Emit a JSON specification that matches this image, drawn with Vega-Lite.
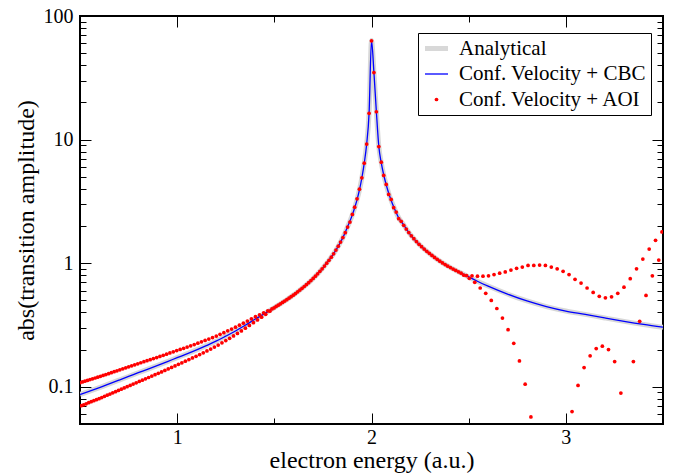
{
  "$schema": "https://vega.github.io/schema/vega-lite/v6.json",
  "width": 583,
  "height": 408,
  "autosize": {"type": "none"},
  "padding": {"left": 80, "top": 16, "right": 27, "bottom": 50},
  "background": "white",
  "config": {
    "font": "Liberation Serif, Times New Roman, DejaVu Serif, serif",
    "view": {"stroke": "black", "strokeWidth": 2},
    "axis": {
      "domain": false, "grid": false, "ticks": true,
      "tickColor": "black", "tickWidth": 1,
      "labelFont": "Liberation Serif, Times New Roman, DejaVu Serif, serif", "labelFontSize": 20, "labelColor": "black",
      "titleFont": "Liberation Serif, Times New Roman, DejaVu Serif, serif", "titleFontSize": 24, "titleFontWeight": "normal", "titleColor": "black"
    },
    "legend": {
      "labelFont": "Liberation Serif, Times New Roman, DejaVu Serif, serif"
    }
  },
  "datasets": {
    "curve": [
      {"x":0.5,"y":0.0867},{"x":0.55,"y":0.0924},{"x":0.6,"y":0.0986},{"x":0.65,"y":0.1056},{"x":0.7,"y":0.1131},
      {"x":0.75,"y":0.1212},{"x":0.8,"y":0.13},{"x":0.85,"y":0.1391},{"x":0.9,"y":0.1491},{"x":0.95,"y":0.16},
      {"x":1.0,"y":0.172},{"x":1.05,"y":0.1847},{"x":1.1,"y":0.1989},{"x":1.15,"y":0.2153},{"x":1.2,"y":0.2338},
      {"x":1.25,"y":0.2567},{"x":1.3,"y":0.2829},{"x":1.35,"y":0.3146},{"x":1.4,"y":0.3517},{"x":1.45,"y":0.3909},
      {"x":1.5,"y":0.438},{"x":1.55,"y":0.49},{"x":1.6,"y":0.555},{"x":1.65,"y":0.64},{"x":1.7,"y":0.7533},
      {"x":1.75,"y":0.916},{"x":1.8,"y":1.16},{"x":1.83,"y":1.381},{"x":1.86,"y":1.703},{"x":1.877,"y":1.976},
      {"x":1.8891,"y":2.19},{"x":1.9013,"y":2.46},{"x":1.9135,"y":2.81},{"x":1.9257,"y":3.27},{"x":1.938,"y":3.92},
      {"x":1.9503,"y":4.89},{"x":1.9627,"y":6.45},{"x":1.9751,"y":9.2},{"x":1.9875,"y":16.3},{"x":2.0,"y":63.5},
      {"x":2.0125,"y":34.9},{"x":2.0251,"y":16.8},{"x":2.0377,"y":8.79},{"x":2.0503,"y":6.48},{"x":2.063,"y":5.17},
      {"x":2.0757,"y":4.31},{"x":2.0885,"y":3.68},{"x":2.1013,"y":3.22},{"x":2.1141,"y":2.86},{"x":2.127,"y":2.57},
      {"x":2.1399,"y":2.33},{"x":2.16,"y":2.104},{"x":2.2,"y":1.705},{"x":2.25,"y":1.396},{"x":2.3,"y":1.193},
      {"x":2.35,"y":1.043},{"x":2.4,"y":0.9325},{"x":2.45,"y":0.849},{"x":2.5,"y":0.774},{"x":2.55,"y":0.708},
      {"x":2.6,"y":0.653},{"x":2.7,"y":0.563},{"x":2.8,"y":0.495},{"x":2.9,"y":0.4456},{"x":3.0,"y":0.41},
      {"x":3.1,"y":0.3855},{"x":3.2,"y":0.3608},{"x":3.3,"y":0.3385},{"x":3.4,"y":0.3193},{"x":3.5,"y":0.3033}
    ],
    "aoi": [
      {"x":0.5,"y":0.108},{"x":0.5063,"y":0.0703},{"x":0.5126,"y":0.1094},{"x":0.5189,"y":0.0715},{"x":0.5253,"y":0.111},
      {"x":0.5317,"y":0.0729},{"x":0.5382,"y":0.1127},{"x":0.5447,"y":0.0743},{"x":0.5513,"y":0.1143},{"x":0.5578,"y":0.0757},
      {"x":0.5645,"y":0.116},{"x":0.5711,"y":0.0772},{"x":0.5778,"y":0.1178},{"x":0.5846,"y":0.0787},{"x":0.5913,"y":0.1196},
      {"x":0.5981,"y":0.0802},{"x":0.605,"y":0.1215},{"x":0.6119,"y":0.0819},{"x":0.6188,"y":0.1235},{"x":0.6258,"y":0.0837},
      {"x":0.6328,"y":0.1256},{"x":0.6399,"y":0.0855},{"x":0.647,"y":0.1278},{"x":0.6541,"y":0.0874},{"x":0.6613,"y":0.1301},
      {"x":0.6685,"y":0.0893},{"x":0.6757,"y":0.1324},{"x":0.683,"y":0.0913},{"x":0.6903,"y":0.1348},{"x":0.6977,"y":0.0934},
      {"x":0.7051,"y":0.1372},{"x":0.7125,"y":0.0956},{"x":0.72,"y":0.1397},{"x":0.7275,"y":0.0978},{"x":0.7351,"y":0.1423},
      {"x":0.7427,"y":0.1002},{"x":0.7503,"y":0.145},{"x":0.758,"y":0.1026},{"x":0.7657,"y":0.1478},{"x":0.7735,"y":0.1051},
      {"x":0.7813,"y":0.1507},{"x":0.7891,"y":0.1077},{"x":0.797,"y":0.1536},{"x":0.8049,"y":0.1104},{"x":0.8128,"y":0.1565},
      {"x":0.8208,"y":0.1132},{"x":0.8288,"y":0.1595},{"x":0.8369,"y":0.116},{"x":0.845,"y":0.1626},{"x":0.8531,"y":0.1189},
      {"x":0.8613,"y":0.1658},{"x":0.8696,"y":0.122},{"x":0.8778,"y":0.1691},{"x":0.8861,"y":0.1252},{"x":0.8945,"y":0.1725},
      {"x":0.9028,"y":0.1285},{"x":0.9113,"y":0.1761},{"x":0.9197,"y":0.132},{"x":0.9282,"y":0.1798},{"x":0.9367,"y":0.1357},
      {"x":0.9453,"y":0.1836},{"x":0.9539,"y":0.1395},{"x":0.9626,"y":0.1877},{"x":0.9713,"y":0.1435},{"x":0.98,"y":0.1918},
      {"x":0.9888,"y":0.1476},{"x":0.9976,"y":0.1962},{"x":1.0064,"y":0.1519},{"x":1.0153,"y":0.2005},{"x":1.0242,"y":0.1563},
      {"x":1.0332,"y":0.205},{"x":1.0422,"y":0.161},{"x":1.0513,"y":0.2097},{"x":1.0603,"y":0.1659},{"x":1.0695,"y":0.2145},
      {"x":1.0786,"y":0.171},{"x":1.0878,"y":0.2197},{"x":1.0971,"y":0.1764},{"x":1.1063,"y":0.2251},{"x":1.1156,"y":0.1822},
      {"x":1.125,"y":0.2309},{"x":1.1344,"y":0.1885},{"x":1.1438,"y":0.237},{"x":1.1533,"y":0.195},{"x":1.1628,"y":0.2434},
      {"x":1.1724,"y":0.202},{"x":1.182,"y":0.2502},{"x":1.1916,"y":0.2094},{"x":1.2013,"y":0.2574},{"x":1.211,"y":0.2176},
      {"x":1.2207,"y":0.2656},{"x":1.2305,"y":0.2267},{"x":1.2403,"y":0.2743},{"x":1.2502,"y":0.2364},{"x":1.2601,"y":0.2835},
      {"x":1.27,"y":0.2468},{"x":1.28,"y":0.2932},{"x":1.29,"y":0.2578},{"x":1.3001,"y":0.3036},{"x":1.3102,"y":0.27},
      {"x":1.3203,"y":0.3151},{"x":1.3305,"y":0.2834},{"x":1.3407,"y":0.3273},{"x":1.351,"y":0.2978},{"x":1.3613,"y":0.3405},
      {"x":1.3716,"y":0.3133},{"x":1.382,"y":0.3545},{"x":1.3924,"y":0.3301},{"x":1.4028,"y":0.3692},{"x":1.4133,"y":0.3472},
      {"x":1.4238,"y":0.3825},{"x":1.4344,"y":0.3654},{"x":1.445,"y":0.397},{"x":1.4556,"y":0.3855},{"x":1.4663,"y":0.4114},
      {"x":1.4771,"y":0.4088},{"x":1.4878,"y":0.4268},{"x":1.4986,"y":0.4346},{"x":1.5095,"y":0.4471},{"x":1.5203,"y":0.4578},
      {"x":1.5313,"y":0.4692},{"x":1.5422,"y":0.4812},{"x":1.5532,"y":0.4937},{"x":1.5642,"y":0.5069},{"x":1.5753,"y":0.5211},
      {"x":1.5864,"y":0.5358},{"x":1.5976,"y":0.5514},{"x":1.6088,"y":0.5685},{"x":1.62,"y":0.5863},{"x":1.6313,"y":0.6056},
      {"x":1.6426,"y":0.6259},{"x":1.6539,"y":0.6478},{"x":1.6653,"y":0.6711},{"x":1.6767,"y":0.6963},{"x":1.6882,"y":0.7232},
      {"x":1.6997,"y":0.7526},{"x":1.7113,"y":0.7852},{"x":1.7228,"y":0.8203},{"x":1.7345,"y":0.8591},{"x":1.7461,"y":0.9011},
      {"x":1.7578,"y":0.9475},{"x":1.7696,"y":0.9991},{"x":1.7813,"y":1.056},{"x":1.7931,"y":1.119},{"x":1.805,"y":1.192},
      {"x":1.8169,"y":1.276},{"x":1.8288,"y":1.372},{"x":1.8408,"y":1.483},{"x":1.8528,"y":1.612},{"x":1.8649,"y":1.766},
      {"x":1.877,"y":1.96},{"x":1.8891,"y":2.15},{"x":1.9013,"y":2.48},{"x":1.9135,"y":2.84},{"x":1.9257,"y":3.32},
      {"x":1.938,"y":3.97},{"x":1.9503,"y":4.91},{"x":1.9627,"y":6.44},{"x":1.9751,"y":9.2},{"x":1.9875,"y":16.3},
      {"x":2.0,"y":63},{"x":2.0125,"y":34.9},{"x":2.0251,"y":16.8},{"x":2.0377,"y":8.79},{"x":2.0503,"y":6.56},
      {"x":2.063,"y":5.13},{"x":2.0757,"y":4.34},{"x":2.0885,"y":3.6},{"x":2.1013,"y":3.28},{"x":2.1141,"y":2.81},
      {"x":2.127,"y":2.59},{"x":2.1399,"y":2.29},{"x":2.1528,"y":2.182},{"x":2.1658,"y":2.024},{"x":2.1788,"y":1.888},
      {"x":2.1919,"y":1.77},{"x":2.205,"y":1.667},{"x":2.2181,"y":1.577},{"x":2.2313,"y":1.496},{"x":2.2446,"y":1.423},
      {"x":2.2578,"y":1.359},{"x":2.2711,"y":1.301},{"x":2.2845,"y":1.249},{"x":2.2978,"y":1.201},{"x":2.3113,"y":1.155},
      {"x":2.3247,"y":1.113},{"x":2.3382,"y":1.074},{"x":2.3517,"y":1.038},{"x":2.3653,"y":1.005},{"x":2.3789,"y":0.9747},
      {"x":2.3926,"y":0.946},{"x":2.4063,"y":0.9208},{"x":2.42,"y":0.8967},{"x":2.4338,"y":0.8739},{"x":2.4476,"y":0.8526},
      {"x":2.4614,"y":0.8307},{"x":2.4753,"y":0.8},{"x":2.4892,"y":0.795},{"x":2.5032,"y":0.755},{"x":2.5172,"y":0.79},
      {"x":2.5313,"y":0.7},{"x":2.5453,"y":0.785},{"x":2.5594,"y":0.63},{"x":2.5736,"y":0.785},{"x":2.5878,"y":0.57},
      {"x":2.6021,"y":0.79},{"x":2.6163,"y":0.5},{"x":2.6306,"y":0.81},{"x":2.645,"y":0.43},{"x":2.6594,"y":0.83},
      {"x":2.6738,"y":0.36},{"x":2.6883,"y":0.85},{"x":2.7028,"y":0.29},{"x":2.7174,"y":0.88},{"x":2.732,"y":0.225},
      {"x":2.7466,"y":0.91},{"x":2.7613,"y":0.162},{"x":2.776,"y":0.93},{"x":2.7907,"y":0.105},{"x":2.8055,"y":0.96},
      {"x":2.8203,"y":0.057},{"x":2.8352,"y":0.96},{"x":2.865,"y":0.965},{"x":2.895,"y":0.96},{"x":2.9252,"y":0.93},
      {"x":2.9555,"y":0.9},{"x":2.986,"y":0.86},{"x":3.0166,"y":0.81},{"x":3.032,"y":0.063},{"x":3.0474,"y":0.74},
      {"x":3.0628,"y":0.1025},{"x":3.0783,"y":0.69},{"x":3.0939,"y":0.143},{"x":3.1094,"y":0.63},{"x":3.125,"y":0.178},
      {"x":3.1406,"y":0.58},{"x":3.1563,"y":0.204},{"x":3.1721,"y":0.54},{"x":3.1878,"y":0.213},{"x":3.2036,"y":0.525},
      {"x":3.2195,"y":0.2},{"x":3.2353,"y":0.535},{"x":3.2513,"y":0.16},{"x":3.2672,"y":0.57},{"x":3.2832,"y":0.089},
      {"x":3.2992,"y":0.64},{"x":3.3314,"y":0.75},{"x":3.3476,"y":0.16},{"x":3.3638,"y":0.9},{"x":3.38,"y":0.339},
      {"x":3.3963,"y":1.08},{"x":3.4126,"y":0.548},{"x":3.4289,"y":1.3},{"x":3.4453,"y":0.79},{"x":3.4617,"y":1.53},
      {"x":3.4782,"y":1.06},{"x":3.4947,"y":1.79}
    ]
  },
  "layer": [
    {
      "data": {"name": "curve"},
      "mark": {"type": "line", "strokeWidth": 5, "interpolate": "monotone", "clip": true},
      "encoding": {
        "x": {"field": "x", "type": "quantitative",
          "scale": {"domain": [0.5, 3.5], "nice": false, "zero": false},
          "axis": {"orient": "bottom", "values": [1, 2, 3], "format": "~g", "tickSize": -11, "labelPadding": 14, "labelFlush": false,
            "title": "electron energy (a.u.)", "titleX": 291.5, "titleY": 43, "titleBaseline": "alphabetic", "titleAlign": "center"}},
        "y": {"field": "y", "type": "quantitative",
          "scale": {"type": "log", "domain": [0.05, 100], "nice": false},
          "axis": {"orient": "left", "values": [0.1, 1, 10, 100], "format": "~g", "tickSize": -11, "labelPadding": 18, "labelFlush": false,
            "title": "abs(transition amplitude)", "titleX": -47, "titleY": 204, "titleAngle": -90, "titleBaseline": "alphabetic", "titleAlign": "center"}},
        "color": {"datum": "Analytical", "type": "nominal",
          "scale": {"domain": ["Analytical", "Conf. Velocity + CBC", "Conf. Velocity + AOI"], "range": ["#d8d8d8", "#0000ff", "#ff0000"]},
          "legend": {
            "orient": "none", "legendX": 338, "legendY": 17, "title": null,
            "strokeColor": "black", "fillColor": "white", "padding": 5,
            "symbolType": "stroke", "symbolSize": 400, "symbolStrokeWidth": 1.3, "symbolOffset": 3,
            "labelFont": "Liberation Serif, Times New Roman, DejaVu Serif, serif", "labelFontSize": 21, "labelColor": "black", "labelOffset": 12, "labelLimit": 400,
            "rowPadding": 3.5,
            "encode": {"symbols": {"update": {
              "shape": {"signal": "datum.value === 'Conf. Velocity + AOI' ? 'circle' : 'stroke'"},
              "size": {"signal": "datum.value === 'Conf. Velocity + AOI' ? 14 : 529"},
              "strokeWidth": {"signal": "datum.value === 'Analytical' ? 5 : (datum.value === 'Conf. Velocity + CBC' ? 1.3 : 0)"},
              "stroke": {"signal": "datum.value === 'Analytical' ? '#d8d8d8' : (datum.value === 'Conf. Velocity + CBC' ? '#0000ff' : 'transparent')"},
              "fill": {"signal": "datum.value === 'Conf. Velocity + AOI' ? '#ff0000' : 'transparent'"},
              "opacity": {"value": 1}
            }}}
          }}
      }
    },
    {
      "data": {"name": "curve"},
      "mark": {"type": "line", "strokeWidth": 1.3, "interpolate": "monotone", "clip": true},
      "encoding": {
        "x": {"field": "x", "type": "quantitative",
          "scale": {"domain": [0.5, 3.5], "nice": false, "zero": false},
          "axis": {"orient": "bottom", "values": [1.5, 2.5], "tickSize": -6, "labels": false, "title": null}},
        "y": {"field": "y", "type": "quantitative",
          "scale": {"type": "log", "domain": [0.05, 100], "nice": false},
          "axis": {"orient": "left", "values": [0.06,0.07,0.08,0.09,0.2,0.3,0.4,0.5,0.6,0.7,0.8,0.9,2,3,4,5,6,7,8,9,20,30,40,50,60,70,80,90], "tickSize": -6, "labels": false, "title": null}},
        "color": {"datum": "Conf. Velocity + CBC", "type": "nominal"}
      }
    },
    {
      "data": {"name": "aoi"},
      "mark": {"type": "circle", "size": 14, "opacity": 1, "clip": true},
      "encoding": {
        "x": {"field": "x", "type": "quantitative",
          "scale": {"domain": [0.5, 3.5], "nice": false, "zero": false},
          "axis": {"orient": "top", "values": [1, 2, 3], "tickSize": -11, "labels": false, "title": null}},
        "y": {"field": "y", "type": "quantitative",
          "scale": {"type": "log", "domain": [0.05, 100], "nice": false},
          "axis": {"orient": "right", "values": [0.1, 1, 10, 100], "tickSize": -11, "labels": false, "title": null}},
        "color": {"datum": "Conf. Velocity + AOI", "type": "nominal"}
      }
    },
    {
      "data": {"name": "curve"},
      "mark": {"type": "line", "opacity": 0, "clip": true},
      "encoding": {
        "x": {"field": "x", "type": "quantitative",
          "scale": {"domain": [0.5, 3.5], "nice": false, "zero": false},
          "axis": {"orient": "top", "values": [1.5, 2.5], "tickSize": -6, "labels": false, "title": null}},
        "y": {"field": "y", "type": "quantitative",
          "scale": {"type": "log", "domain": [0.05, 100], "nice": false},
          "axis": {"orient": "right", "values": [0.06,0.07,0.08,0.09,0.2,0.3,0.4,0.5,0.6,0.7,0.8,0.9,2,3,4,5,6,7,8,9,20,30,40,50,60,70,80,90], "tickSize": -6, "labels": false, "title": null}}
      }
    }
  ],
  "resolve": {"axis": {"x": "independent", "y": "independent"}}
}
